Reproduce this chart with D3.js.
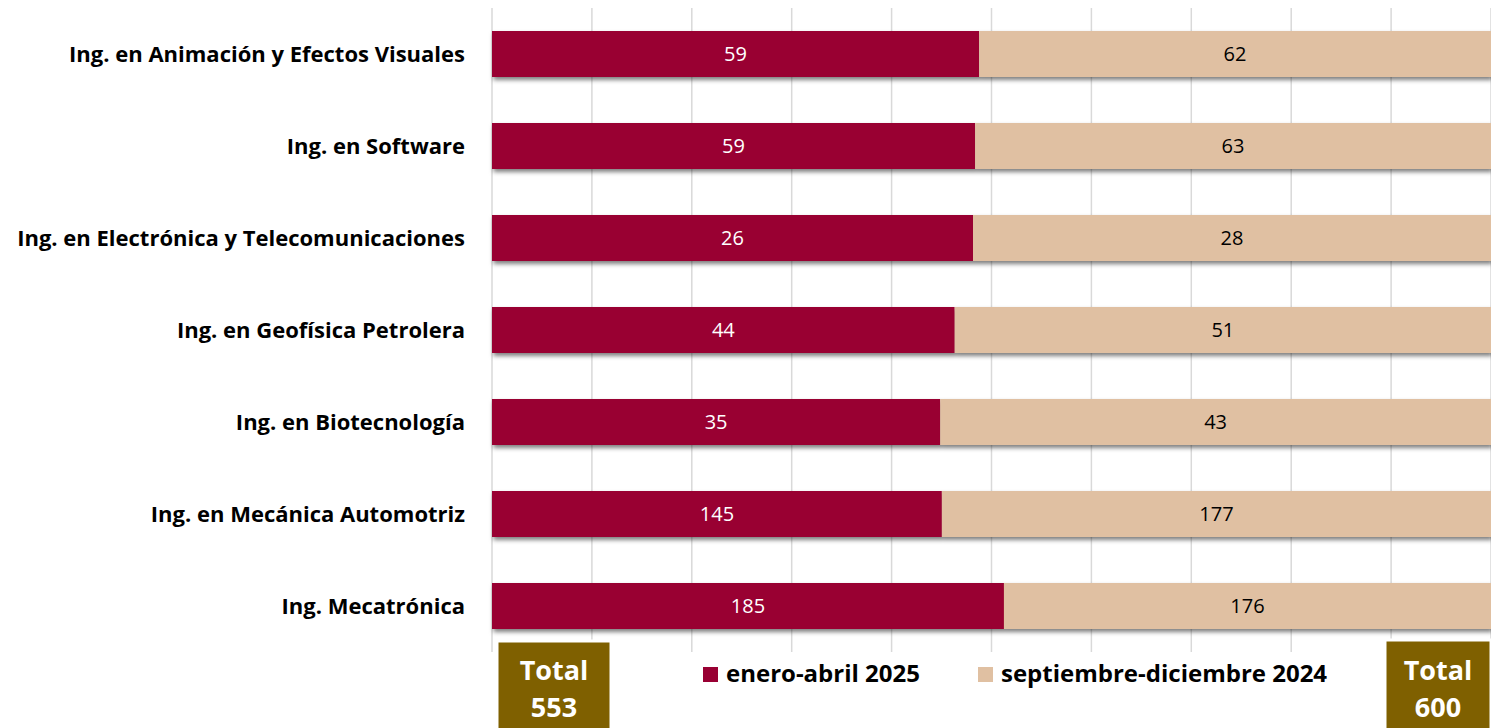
<!DOCTYPE html>
<html>
<head>
<meta charset="utf-8">
<script src="https://cdn.jsdelivr.net/npm/d3@7"></script>
<style>
  body { margin: 0; background: #fff; }
  svg { display: block; font-family: "Open Sans", "Noto Sans", sans-serif; }
</style>
</head>
<body>
<div id="chart"></div>
<script>
// data
var programs = [
  "Ing. en Animación y Efectos Visuales",
  "Ing. en Software",
  "Ing. en Electrónica y Telecomunicaciones",
  "Ing. en Geofísica Petrolera",
  "Ing. en Biotecnología",
  "Ing. en Mecánica Automotriz",
  "Ing. Mecatrónica"
];
var eneroAbril2025 = [59, 59, 26, 44, 35, 145, 185];
var sepDic2024 = [62, 63, 28, 51, 43, 177, 176];
var seriesNames = ["enero-abril 2025", "septiembre-diciembre 2024"];
var totals = [553, 600];

var svgWidth = 1491;
var svgHeight = 728;
var margin = { top: 8, right: 0, bottom: 76, left: 492 };
var width = svgWidth - margin.left - margin.right;
var height = svgHeight - margin.top - margin.bottom;

var colors = ["#990033", "#E0C0A2"];

var svg = d3.select("#chart")
  .append("svg")
  .attr("width", svgWidth)
  .attr("height", svgHeight);

// drop shadow for bars
var defs = svg.append("defs");
var filter = defs.append("filter")
  .attr("id", "shadow")
  .attr("x", "-5%").attr("y", "-20%")
  .attr("width", "110%").attr("height", "160%");
filter.append("feDropShadow")
  .attr("dx", 1.5).attr("dy", 3)
  .attr("stdDeviation", 2)
  .attr("flood-color", "#000")
  .attr("flood-opacity", 0.5);

var chartGroup = svg.append("g")
  .attr("transform", `translate(${margin.left}, ${margin.top})`);

var data = programs.map(function(p, i) {
  var tot = eneroAbril2025[i] + sepDic2024[i];
  return { name: p, a: eneroAbril2025[i], b: sepDic2024[i], pa: eneroAbril2025[i] / tot };
});

var xScale = d3.scaleLinear().domain([0, 1]).range([0, width]);
var yScale = d3.scaleBand().domain(programs).range([0, height])
  .paddingInner(0.5)
  .paddingOuter(0.25);

// gridlines
chartGroup.append("g")
  .selectAll("line")
  .data(d3.range(0, 1.0001, 0.1))
  .enter()
  .append("line")
  .attr("x1", d => xScale(d))
  .attr("x2", d => xScale(d))
  .attr("y1", 0)
  .attr("y2", height)
  .attr("stroke", "#d9d9d9")
  .attr("stroke-width", 1.5);

// bars
var rows = chartGroup.selectAll(".row")
  .data(data)
  .enter()
  .append("g")
  .attr("class", "row")
  .attr("transform", d => `translate(0, ${yScale(d.name)})`);

rows.append("g")
  .attr("filter", "url(#shadow)")
  .call(function(g) {
    g.append("rect")
      .attr("x", xScale(0))
      .attr("width", d => xScale(d.pa) - xScale(0))
      .attr("height", yScale.bandwidth())
      .attr("fill", colors[0]);
    g.append("rect")
      .attr("x", d => xScale(d.pa))
      .attr("width", d => xScale(1) - xScale(d.pa))
      .attr("height", yScale.bandwidth())
      .attr("fill", colors[1]);
  });

rows.append("text")
  .attr("x", d => xScale(d.pa / 2))
  .attr("y", yScale.bandwidth() / 2)
  .attr("dy", "0.35em")
  .attr("text-anchor", "middle")
  .attr("fill", "#fff")
  .style("font-size", "20px")
  .text(d => d.a);

rows.append("text")
  .attr("x", d => xScale((d.pa + 1) / 2))
  .attr("y", yScale.bandwidth() / 2)
  .attr("dy", "0.35em")
  .attr("text-anchor", "middle")
  .attr("fill", "#000")
  .style("font-size", "20px")
  .text(d => d.b);

// category labels
rows.append("text")
  .attr("x", -27)
  .attr("y", yScale.bandwidth() / 2)
  .attr("dy", "0.36em")
  .attr("text-anchor", "end")
  .attr("fill", "#000")
  .style("font-size", "22px")
  .style("font-weight", "bold")
  .text(d => d.name);

// legend
var legendItems = [
  { name: seriesNames[0], color: colors[0], x: 703 },
  { name: seriesNames[1], color: colors[1], x: 978 }
];
var legend = svg.append("g");
legend.selectAll("rect")
  .data(legendItems)
  .enter()
  .append("rect")
  .attr("x", d => d.x)
  .attr("y", 667)
  .attr("width", 15)
  .attr("height", 15)
  .attr("fill", d => d.color);
legend.selectAll("text")
  .data(legendItems)
  .enter()
  .append("text")
  .attr("x", d => d.x + 23)
  .attr("y", 682)
  .style("font-size", "24px")
  .style("font-weight", "bold")
  .text(d => d.name);

// total boxes
var boxes = [
  { value: totals[0], x: 497, w: 114, y: 641 },
  { value: totals[1], x: 1385, w: 106, y: 640 }
];
var boxG = svg.selectAll(".total")
  .data(boxes)
  .enter()
  .append("g")
  .attr("class", "total");
boxG.append("rect")
  .attr("x", d => d.x)
  .attr("y", d => d.y)
  .attr("width", d => d.w)
  .attr("height", d => svgHeight - d.y + 5)
  .attr("fill", "#7F6000")
  .attr("stroke", "#fff")
  .attr("stroke-width", 3);
boxG.append("text")
  .attr("x", d => d.x + d.w / 2)
  .attr("y", 680)
  .attr("text-anchor", "middle")
  .attr("fill", "#fff")
  .style("font-size", "27px")
  .style("font-weight", "bold")
  .text("Total");
boxG.append("text")
  .attr("x", d => d.x + d.w / 2)
  .attr("y", 717)
  .attr("text-anchor", "middle")
  .attr("fill", "#fff")
  .style("font-size", "27px")
  .style("font-weight", "bold")
  .text(d => d.value);
</script>
</body>
</html>
